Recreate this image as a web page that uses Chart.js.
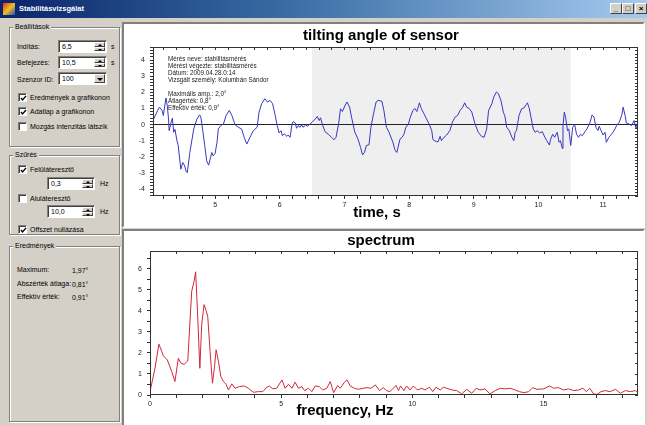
<!DOCTYPE html>
<html>
<head>
<meta charset="utf-8">
<script src="https://cdn.jsdelivr.net/npm/chart.js@4.4.0/dist/chart.umd.min.js"></script>
<style>
  body { margin:0; width:647px; height:425px; overflow:hidden; position:relative;
         background:#d4d0c8; font-family:"Liberation Sans", Arial, sans-serif; font-size:7px; color:#000; }
  .a { position:absolute; }
  #titlebar { left:0; top:0; width:647px; height:18px; background:linear-gradient(to right,#0a246a 0%,#3a6ea5 45%,#a6caf0 100%); }
  #titlebar .cap { left:19px; top:3px; color:#fff; font-weight:bold; font-size:7.5px; line-height:12px; }
  .icon { left:3px; top:3px; width:12px; height:12px; background:linear-gradient(135deg,#e03020 0%,#f0c020 50%,#2050c0 100%); }
  .wbtn { top:3px; width:12px; height:11px; box-sizing:border-box; background:#d4d0c8; border:1px solid; border-color:#fff #404040 #404040 #fff;
          font-size:8px; line-height:9px; text-align:center; font-weight:bold; }
  .group { box-sizing:border-box; border:1px solid #808080; box-shadow:1px 1px 0 #fff, inset 1px 1px 0 #fff; }
  .legend { background:#d4d0c8; padding:0 2px; line-height:8px; }
  .lbl { line-height:8px; white-space:nowrap; }
  .edit { box-sizing:border-box; background:#fff; border:1px solid; border-color:#808080 #fff #fff #808080;
          box-shadow:inset 1px 1px 0 #404040; padding-left:3px; line-height:11px; }
  .spin { right:1px; top:1px; width:11px; bottom:1px; }
  .spin div { position:absolute; left:0; width:11px; height:50%; box-sizing:border-box; background:#d4d0c8;
              border:1px solid; border-color:#fff #404040 #404040 #fff; }
  .tri { position:absolute; left:3px; width:0; height:0; border-left:2px solid transparent; border-right:2px solid transparent; }
  .up { top:1px; border-bottom:2px solid #000; }
  .dn { top:1px; border-top:2px solid #000; }
  .cb { width:9px; height:9px; box-sizing:border-box; background:#fff; border:1px solid; border-color:#808080 #fff #fff #808080;
        box-shadow:inset 1px 1px 0 #404040; }
  .cb svg { position:absolute; left:0; top:0; }
  .panel { box-sizing:border-box; background:#fff; border:2px solid; border-color:#808080 #fff #fff #808080; }
  canvas { position:absolute; }
</style>
</head>
<body>
<div id="titlebar" class="a">
  <div class="a icon"></div>
  <div class="a cap">Stabilitásvizsgálat</div>
  <div class="a wbtn" style="left:610px">_</div>
  <div class="a wbtn" style="left:622px">□</div>
  <div class="a wbtn" style="left:635px">×</div>
</div>

<!-- Beállítások -->
<div class="a group" style="left:9px;top:27px;width:111px;height:120px"></div>
<div class="a legend" style="left:13px;top:23px">Beállítások</div>
<div class="a lbl" style="left:17px;top:43px">Indítás:</div>
<div class="a edit" style="left:58px;top:40px;width:49px;height:13px">6,5<div class="a spin"><div style="top:0"><span class="tri up"></span></div><div style="top:50%"><span class="tri dn"></span></div></div></div>
<div class="a lbl" style="left:111px;top:43px">s</div>
<div class="a lbl" style="left:17px;top:59px">Befejezés:</div>
<div class="a edit" style="left:58px;top:56px;width:49px;height:13px">10,5<div class="a spin"><div style="top:0"><span class="tri up"></span></div><div style="top:50%"><span class="tri dn"></span></div></div></div>
<div class="a lbl" style="left:111px;top:59px">s</div>
<div class="a lbl" style="left:17px;top:76px">Szenzor ID:</div>
<div class="a edit" style="left:58px;top:72px;width:49px;height:13px">100<div class="a spin"><div style="top:0;height:100%"><span class="tri dn" style="top:3px;border-top-width:3px;border-left-width:3px;border-right-width:3px;left:2px"></span></div></div></div>
<div class="a cb" style="left:18px;top:93px"><svg width="9" height="9"><polyline points="2,4 3.5,6 7,2" fill="none" stroke="#000" stroke-width="1.3"/></svg></div>
<div class="a lbl" style="left:30px;top:94px">Eredmények a grafikonon</div>
<div class="a cb" style="left:18px;top:107px"><svg width="9" height="9"><polyline points="2,4 3.5,6 7,2" fill="none" stroke="#000" stroke-width="1.3"/></svg></div>
<div class="a lbl" style="left:30px;top:108px">Adatlap a grafikonon</div>
<div class="a cb" style="left:18px;top:122px"></div>
<div class="a lbl" style="left:30px;top:123px">Mozgás intenzitás látszik</div>

<!-- Szűrés -->
<div class="a group" style="left:9px;top:155px;width:111px;height:80px"></div>
<div class="a legend" style="left:13px;top:151px">Szűrés</div>
<div class="a cb" style="left:18px;top:165px"><svg width="9" height="9"><polyline points="2,4 3.5,6 7,2" fill="none" stroke="#000" stroke-width="1.3"/></svg></div>
<div class="a lbl" style="left:30px;top:166px">Felüláteresztő</div>
<div class="a edit" style="left:47px;top:177px;width:48px;height:13px">0,3<div class="a spin"><div style="top:0"><span class="tri up"></span></div><div style="top:50%"><span class="tri dn"></span></div></div></div>
<div class="a lbl" style="left:100px;top:180px">Hz</div>
<div class="a cb" style="left:18px;top:194px"></div>
<div class="a lbl" style="left:30px;top:195px">Aluláteresztő</div>
<div class="a edit" style="left:47px;top:205px;width:48px;height:13px">10,0<div class="a spin"><div style="top:0"><span class="tri up"></span></div><div style="top:50%"><span class="tri dn"></span></div></div></div>
<div class="a lbl" style="left:100px;top:208px">Hz</div>
<div class="a cb" style="left:18px;top:225px"><svg width="9" height="9"><polyline points="2,4 3.5,6 7,2" fill="none" stroke="#000" stroke-width="1.3"/></svg></div>
<div class="a lbl" style="left:30px;top:226px">Offszet nullázása</div>

<!-- Eredmények -->
<div class="a group" style="left:9px;top:246px;width:111px;height:176px"></div>
<div class="a legend" style="left:13px;top:242px">Eredmények</div>
<div class="a lbl" style="left:17px;top:266px">Maximum:</div>
<div class="a lbl" style="left:72px;top:267px">1,97°</div>
<div class="a lbl" style="left:17px;top:280px">Abszérték átlaga:</div>
<div class="a lbl" style="left:72px;top:281px">0,81°</div>
<div class="a lbl" style="left:17px;top:293px">Effektív érték:</div>
<div class="a lbl" style="left:72px;top:294px">0,91°</div>

<!-- chart panels -->
<div class="a panel" style="left:122px;top:22px;width:523px;height:206px"></div>
<canvas id="tilt" width="519" height="202" style="left:124px;top:24px"></canvas>
<div class="a panel" style="left:122px;top:229px;width:523px;height:200px"></div>
<canvas id="spec" width="519" height="194" style="left:124px;top:231px"></canvas>

<script>
// tilting angle of sensor (deg) vs time (s)
const timeSec = [
  4.05,4.10,4.14,4.18,4.20,4.24,4.26,4.28,4.29,4.32, 4.34,4.36,4.38,4.41,4.43,4.47,4.50,4.53,4.55,4.57,
  4.61,4.67,4.72,4.76,4.78,4.81,4.84,4.87,4.90,4.93, 4.95,4.97,5.00,5.03,5.05,5.09,5.13,5.17,5.22,5.26,
  5.31,5.36,5.41,5.45,5.49,5.54,5.59,5.65,5.68,5.72, 5.77,5.81,5.85,5.89,5.93,
  5.96,5.99,6.02,6.04,6.07,6.11,6.13,6.16,6.19,6.21, 6.24,6.26,6.29,6.31,6.34,6.36,6.40,6.43,6.47,6.50,
  6.55,6.58,6.61,6.63,6.66,6.70,6.75,6.80,6.84,6.87, 6.91,6.94,6.97,7.01,7.04,7.08,7.11,7.16,7.21,7.25,
  7.28,7.31,7.34,7.38,7.41,7.45,7.49,7.52,7.58,7.61, 7.65,7.69,7.75,7.78,7.81,7.83,7.86,7.89,7.92,7.95,
  7.99,8.02,8.06,8.09,8.12,8.16,8.19,8.23,8.27,8.31, 8.35,8.37,8.42,8.45,8.48,8.50,8.54,8.58,8.63,8.67,
  8.71,8.75,8.79,8.83,8.86,8.89,8.93,8.97,9.02,9.07, 9.12,9.16,9.20,9.23,9.28,9.31,9.35,9.38,9.42,9.46,
  9.48,9.51,9.55,9.59,9.62,9.64,9.66,9.70,9.74,9.78, 9.81,9.83,9.86,9.89,9.92,9.95,9.98,10.02,10.06,10.10,
  10.13,10.17,10.19,10.22,10.25,10.29,10.32,10.34,10.37,10.38, 10.40,10.42,10.45,10.47,10.50,10.53,10.56,10.59,10.62,10.65,
  10.68,10.72,10.75,10.80,10.83,10.86,10.89,10.92,10.94,10.97, 11.00,11.03,11.05,11.09,11.13,11.17,11.21,11.25,11.29,11.31,
  11.34,11.36,11.40,11.44,11.48,11.51,11.53
];
const tiltDeg = [
  0.35,0.77,1.08,0.88,0.56,1.65,1.19,0.35,-0.38,0.15, 0.40,-0.48,-0.30,-1.00,-1.30,-2.77,-2.35,-2.56,-2.88,-2.98,
  -1.73,-0.27,0.35,0.60,0.46,-0.38,-1.30,-2.25,-2.52,-2.04, -1.73,-1.94,-1.80,-1.10,-0.27,-0.06,0.04,0.56,0.88,0.56,
  -0.02,-0.17,-0.27,-0.79,-1.21,-0.79,-0.38,-0.17,0.77,1.29, 1.60,1.40,1.50,1.29,0.56,
  -0.06,-0.52,-0.38,-0.69,-0.58,-0.73,-0.65,-0.79,0.04,0.19, 0.10,-0.23,-0.06,-0.17,-0.02,-0.17,-0.02,-0.10,0.04,0.15,
  0.35,0.50,0.25,0.42,0.00,-0.44,-0.60,-0.79,-0.94,-0.79, 0.04,0.98,0.81,1.19,1.40,1.08,0.46,-0.46,-0.90,-1.42,
  -1.88,-1.73,-1.30,-1.25,-0.17,0.67,1.40,1.50,1.44,0.88, -0.17,-0.48,-1.10,-1.56,-1.73,-1.40,-0.90,-0.80,-0.60,-0.17,
  0.04,0.46,0.88,1.00,0.81,1.35,0.98,0.67,0.35,0.04, -0.38,-0.94,-1.06,-1.06,-0.73,-1.00,-0.79,-0.65,-0.38,0.15,
  0.46,0.56,0.88,1.08,1.35,1.08,1.00,0.77,0.04,-0.48, -0.73,-0.79,-0.27,0.88,1.29,1.71,2.02,1.92,1.50,0.73,
  0.56,-0.17,-0.38,-0.79,-1.00,-0.48,-0.38,0.56,0.98,1.04, 1.23,1.35,0.98,0.35,-0.27,-0.48,-0.38,-0.52,-0.44,-0.79,
  -1.00,-1.27,-0.90,-0.60,-0.79,-0.48,-1.10,-1.00,-1.48,-0.06, 0.77,0.46,-0.38,-0.27,-1.30,-0.17,0.00,-0.60,-0.79,-0.60,
  -0.69,-0.44,-0.27,0.15,0.60,0.46,-0.17,-0.38,-0.10,-0.38, -0.65,-0.48,-1.10,-0.79,-0.60,-0.38,-0.06,0.15,0.60,1.08,
  0.56,0.10,0.04,-0.06,0.25,-0.27,-0.06
];
// spectrum amplitude vs frequency (Hz)
const freqHz = [
  0,0.19,0.34,0.45,0.51,0.66,0.83,0.95,1.08,1.18, 1.30,1.44,1.59,1.68,1.74,1.81,1.90,1.97,2.06,2.14,
  2.20,2.29,2.38,2.46,2.52,2.61,2.70,2.80,2.90,2.99, 3.12,3.24,3.41,3.59,3.75,3.94,4.13,4.30,4.45,4.55,
  4.68,4.83,5.03,5.15,5.28,5.41,5.53,5.66,5.79,5.89, 6.04,6.17,6.30,6.45,6.58,6.74,6.87,7.00,7.15,7.25,
  7.40,7.51,7.63,7.79,7.95,8.12,8.27,8.42,8.59,8.75, 8.89,9.02,9.15,9.27,9.38,9.47,9.55,9.68,9.78,9.91,
  10.04,10.19,10.36,10.48,10.65,10.78,10.90,11.06,11.18,11.31, 11.50,11.69,11.88,12.07,12.26,12.43,12.58,12.77,12.96,13.16,
  13.35,13.54,13.73,13.92,14.08,14.26,14.43,14.59,14.75,15.00, 15.23,15.38,15.57,15.76,15.95,16.15,16.34,16.50,16.63,16.76,
  16.91,17.04,17.19,17.35,17.54,17.74,17.93,18.12,18.31,18.50, 18.59
];
const spectrumAmp = [
  0.16,1.27,2.42,2.07,1.86,1.67,1.11,0.64,1.75,1.51, 1.46,1.62,4.94,5.41,5.86,3.98,1.27,3.34,4.30,4.01,
  3.74,2.07,0.56,1.35,2.15,1.59,0.88,0.64,0.51,0.24, 0.53,0.32,0.40,0.43,0.32,0.13,0.16,0.16,0.37,0.43,
  0.29,0.32,0.72,0.32,0.51,0.32,0.61,0.32,0.40,0.21, 0.32,0.16,0.43,0.40,0.24,0.32,0.64,0.11,0.45,0.32,
  0.59,0.72,0.43,0.32,0.27,0.32,0.35,0.32,0.48,0.21, 0.35,0.21,0.16,0.32,0.45,0.21,0.43,0.21,0.43,0.24,
  0.43,0.24,0.32,0.24,0.37,0.16,0.37,0.24,0.37,0.32, 0.24,0.21,0.05,0.27,0.08,0.32,0.24,0.29,0.05,0.21,
  0.32,0.29,0.32,0.24,0.16,0.11,0.16,0.35,0.27,0.29, 0.43,0.32,0.35,0.24,0.29,0.21,0.24,0.32,0.16,0.32,
  0.05,0.03,0.16,0.21,0.16,0.27,0.08,0.21,0.16,0.21, 0.11
];
const timeLabels = [5, 6, 7, 8, 9, 10, 11];
const tiltLabels = [-4, -3, -2, -1, 0, 1, 2, 3, 4];
const freqLabels = [0, 5, 10, 15];
const ampLabels = [0, 1, 2, 3, 4, 5, 6];
const window_ = [6.5, 10.5];   // Indítás .. Befejezés
const noteLines = [
  'Mérés neve: stabilitásmérés',
  'Mérést végezte: stabilitásmérés',
  'Dátum: 2009.04.28.0:14',
  'Vizsgált személy: Kolumbán Sándor',
  '',
  'Maximális amp.: 2,0°',
  'Átlagérték: 0,8°',
  'Effektív érték: 0,9°'
];

Chart.defaults.font.family = '"Liberation Sans", Arial, sans-serif';
Chart.defaults.font.size = 7;
Chart.defaults.color = '#222';
Chart.defaults.animation = false;

// tick values come out as floats like 3.0000000004, compare rounded
const near = (v, list) => Math.abs(v - Math.round(v)) < 1e-6 && list.includes(Math.round(v));

// frame, mirrored ticks, shaded window, notes and axis caption
const frame = {
  id: 'frame',
  beforeDraw(chart, args, o) {
    if (!o.band) return;
    const {ctx, chartArea: a, scales: {x}} = chart;
    const x0 = x.getPixelForValue(o.band[0]), x1 = x.getPixelForValue(o.band[1]);
    ctx.save();
    ctx.fillStyle = '#efefef';
    ctx.fillRect(x0, a.top, x1 - x0, a.bottom - a.top);
    ctx.restore();
  },
  afterDraw(chart, args, o) {
    const {ctx, chartArea: a, scales: {x, y}} = chart;
    ctx.save();
    ctx.strokeStyle = '#333';
    ctx.lineWidth = 1;
    ctx.strokeRect(Math.round(a.left) + 0.5, Math.round(a.top) + 0.5,
                   Math.round(a.right - a.left) - 1, Math.round(a.bottom - a.top) - 1);
    ctx.beginPath();
    x.ticks.forEach(t => {
      const px = Math.round(x.getPixelForValue(t.value)) + 0.5;
      ctx.moveTo(px, a.top); ctx.lineTo(px, a.top + 3);
    });
    y.ticks.forEach(t => {
      const py = Math.round(y.getPixelForValue(t.value)) + 0.5;
      ctx.moveTo(a.right, py); ctx.lineTo(a.right - 3, py);
    });
    ctx.stroke();
    if (o.notes) {
      ctx.font = '6.3px "Liberation Sans", Arial, sans-serif';
      ctx.fillStyle = '#222';
      ctx.textBaseline = 'middle';
      o.notes.forEach((s, i) => ctx.fillText(s, a.left + 15, a.top + 12.5 + i * 7));
    }
    ctx.font = 'bold 15px "Liberation Sans", Arial, sans-serif';
    ctx.fillStyle = '#000';
    ctx.textAlign = 'center';
    ctx.textBaseline = 'middle';
    ctx.fillText(o.caption, o.captionX, o.captionY);
    ctx.restore();
  }
};

function axes(xr, yr, xStep, yStep, xLab, yLab, yWidth, zeroLine) {
  return {
    x: {
      type: 'linear', min: xr[0], max: xr[1],
      afterFit: s => { s.height = 30; },
      border: { display: false },
      grid: { drawOnChartArea: false, tickLength: 3, tickColor: '#333' },
      ticks: { stepSize: xStep, includeBounds: false, autoSkip: false, maxRotation: 0, padding: 2, color: '#222',
               callback: v => near(v, xLab) ? String(Math.round(v)) : '' }
    },
    y: {
      min: yr[0], max: yr[1],
      afterFit: s => { s.width = yWidth; },
      border: { display: false },
      grid: { drawOnChartArea: zeroLine, tickLength: 3, tickColor: '#333',
              color: c => (c.tick && Math.abs(c.tick.value) < 1e-6) ? '#222' : 'rgba(0,0,0,0)' },
      ticks: { stepSize: yStep, includeBounds: false, autoSkip: false, padding: 5, color: '#222',
               callback: v => near(v, yLab) ? String(Math.round(v)) : '' }
    }
  };
}

function titleOpts(text, pt, pb) {
  return { display: true, text, color: '#000', font: { size: 15, weight: 'bold' }, padding: { top: pt, bottom: pb } };
}

new Chart(document.getElementById('tilt'), {
  type: 'line',
  data: { datasets: [{
    data: timeSec.map((t, i) => ({ x: t, y: tiltDeg[i] })),
    borderColor: '#3838c0', borderWidth: 1, pointRadius: 0, tension: 0
  }] },
  options: {
    responsive: false,
    layout: { padding: { left: 0, right: 5, top: 0, bottom: 0 } },
    scales: axes([4.04, 11.54], [-4.43, 4.81], 0.2, 0.2, timeLabels, tiltLabels, 29, true),
    plugins: {
      legend: { display: false }, tooltip: { enabled: false },
      title: titleOpts('tilting angle of sensor', 3, 2),
      frame: { band: window_, notes: noteLines, caption: 'time, s', captionX: 253, captionY: 189 }
    }
  },
  plugins: [frame]
});

new Chart(document.getElementById('spec'), {
  type: 'line',
  data: { datasets: [{
    data: freqHz.map((f, i) => ({ x: f, y: spectrumAmp[i] })),
    borderColor: '#d02838', borderWidth: 1, pointRadius: 0, tension: 0
  }] },
  options: {
    responsive: false,
    layout: { padding: { left: 0, right: 5, top: 0, bottom: 0 } },
    scales: axes([0, 18.6], [0, 6.85], 1, 0.5, freqLabels, ampLabels, 26, false),
    plugins: {
      legend: { display: false }, tooltip: { enabled: false },
      title: titleOpts('spectrum', 1, 1),
      frame: { caption: 'frequency, Hz', captionX: 221, captionY: 180 }
    }
  },
  plugins: [frame]
});
</script>
</body>
</html>
